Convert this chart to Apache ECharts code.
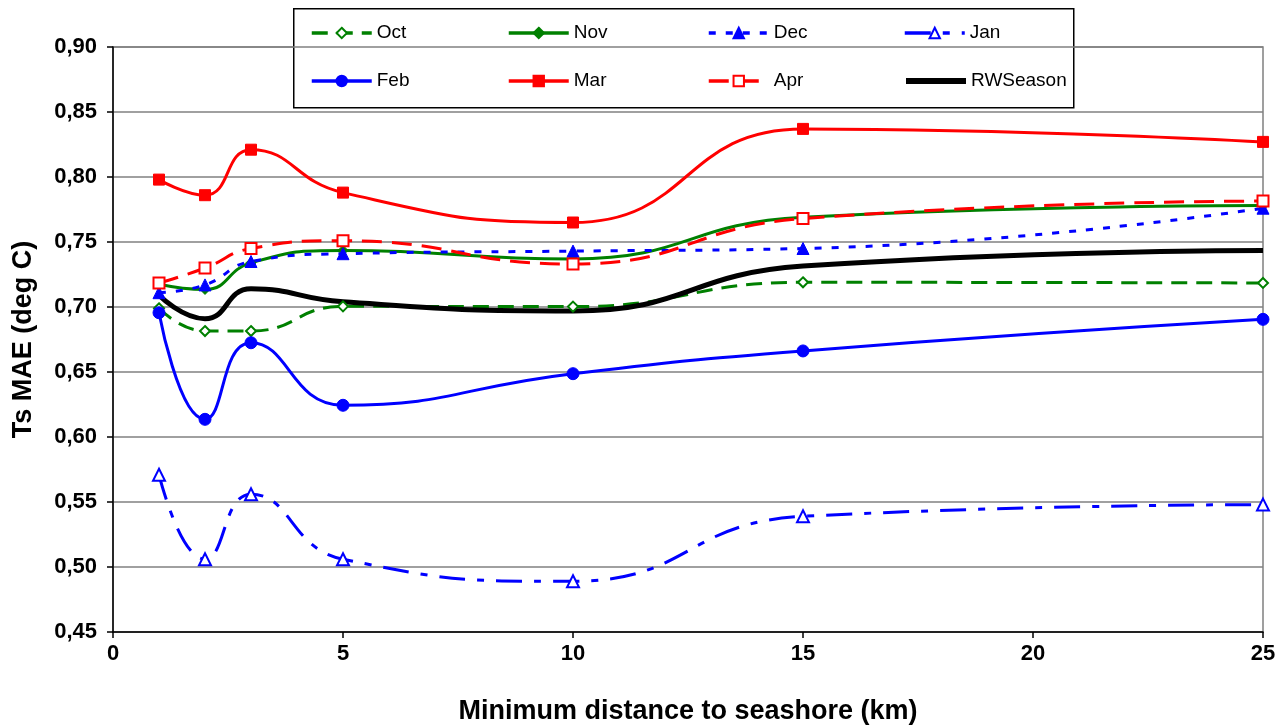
<!DOCTYPE html>
<html>
<head>
<meta charset="utf-8">
<script src="https://cdn.jsdelivr.net/npm/echarts@6/dist/echarts.min.js"></script>
<style>html,body{margin:0;padding:0;background:#fff}#c{width:1288px;height:726px}</style>
</head>
<body>
<div id="c"></div>
<script>
const distances = [1, 2, 3, 5, 10, 15, 25];
const octVals = [0.699, 0.6815, 0.6815, 0.7005, 0.7003, 0.719, 0.7185];
const novVals = [0.7175, 0.7135, 0.734, 0.7435, 0.737, 0.769, 0.778];
const decVals = [0.711, 0.717, 0.735, 0.741, 0.743, 0.745, 0.776];
const janVals = [0.571, 0.506, 0.556, 0.506, 0.489, 0.539, 0.548];
const febVals = [0.6956, 0.6136, 0.6725, 0.6244, 0.6487, 0.6662, 0.6905];
const marVals = [0.798, 0.786, 0.821, 0.788, 0.765, 0.837, 0.827];
const aprVals = [0.7185, 0.730, 0.745, 0.751, 0.733, 0.768, 0.7815];
const rwVals = [0.709, 0.691, 0.714, 0.704, 0.697, 0.7315, 0.7435];
const seriesNames = ['Oct', 'Nov', 'Dec', 'Jan', 'Feb', 'Mar', 'Apr', 'RWSeason'];
const yTicks = {min: 0.45, max: 0.90, step: 0.05};
const xTicks = {min: 0, max: 25, step: 5};

const G = '#008000', B = '#0000FF', R = '#FF0000', K = '#000000';
function pts(v) { return distances.map((d, i) => [d, v[i]]); }
const SM = 0.5;
function mk(name, vals, color, lineType, width, symbol, size, open) {
  return {
    name: name, type: 'line', data: pts(vals), smooth: SM,
    symbol: symbol, symbolSize: size, showSymbol: symbol !== 'none',
    lineStyle: {color: color, width: width, type: lineType},
    itemStyle: open ? {color: '#ffffff', borderColor: color, borderWidth: 2}
                    : {color: color, borderColor: color, borderWidth: 1},
    color: color,
    emphasis: {disabled: true},
    animation: false
  };
}
const series = [
  mk('Oct', octVals, G, [16, 9], 3, 'diamond', 10, true),
  mk('Nov', novVals, G, 'solid', 3, 'diamond', 10, false),
  mk('Dec', decVals, B, [7, 10], 3, 'triangle', 12, false),
  mk('Jan', janVals, B, [26, 12, 7, 12], 3, 'triangle', 12, true),
  mk('Feb', febVals, B, 'solid', 3, 'circle', 12, false),
  mk('Mar', marVals, R, 'solid', 3, 'rect', 11, false),
  mk('Apr', aprVals, R, [20, 10], 3, 'rect', 11, true),
  mk('RWSeason', rwVals, K, 'solid', 5, 'none', 0, false)
];

const FONT = 'Liberation Sans, Arial, sans-serif';
const legendCols = [310, 507, 707, 903];
const legendRowsY = [33, 81];
const legends = seriesNames.map((n, i) => {
  const isRW = n === 'RWSeason';
  const item = isRW ? {name: n, itemStyle: {opacity: 0}} : {name: n};
  return {
    data: [item], left: legendCols[i % 4], top: legendRowsY[Math.floor(i / 4)] - 10,
    orient: 'horizontal', itemWidth: 60, itemHeight: 13, itemGap: 5, padding: 0,
    lineStyle: {width: isRW ? 6 : 3.5},
    textStyle: {fontFamily: FONT, fontSize: 19, lineHeight: 20, color: '#000'},
    selectedMode: false
  };
});

const chart = echarts.init(document.getElementById('c'), null, {renderer: 'canvas'});
const labelFont = {fontFamily: FONT, fontWeight: 'bold', fontSize: 22, color: '#000'};
const nameFont = {fontFamily: FONT, fontWeight: 'bold', fontSize: 27, color: '#000'};
chart.setOption({
  animation: false,
  backgroundColor: '#ffffff',
  grid: {left: 113, right: 25, top: 47, bottom: 94, show: true, borderColor: '#808080', borderWidth: 1.5,
         outerBoundsMode: 'none', containLabel: false},
  legend: legends,
  graphic: [{
    type: 'rect', left: 293, top: 8, z: 0,
    shape: {width: 780, height: 99},
    style: {fill: '#fff', stroke: '#000', lineWidth: 1.5}
  }],
  xAxis: {
    type: 'value', min: xTicks.min, max: xTicks.max, interval: xTicks.step,
    name: 'Minimum distance to seashore (km)', nameLocation: 'middle', nameGap: 66,
    nameTextStyle: nameFont,
    axisLine: {show: true, lineStyle: {color: '#000', width: 1.5}},
    axisTick: {show: true, inside: false, length: 6, lineStyle: {color: '#000', width: 1.5}},
    axisLabel: Object.assign({margin: 11}, labelFont),
    splitLine: {show: false}
  },
  yAxis: {
    type: 'value', min: yTicks.min, max: yTicks.max, interval: yTicks.step,
    name: 'Ts MAE (deg C)', nameLocation: 'middle', nameGap: 76, nameRotate: 90,
    nameTextStyle: nameFont,
    axisLine: {show: true, lineStyle: {color: '#000', width: 1.5}},
    axisTick: {show: true, inside: false, length: 6, lineStyle: {color: '#000', width: 1.5}},
    axisLabel: Object.assign({margin: 16, formatter: v => v.toFixed(2).replace('.', ',')}, labelFont),
    splitLine: {show: true, lineStyle: {color: '#808080', width: 1.5}}
  },
  series: series
});
</script>
</body>
</html>
